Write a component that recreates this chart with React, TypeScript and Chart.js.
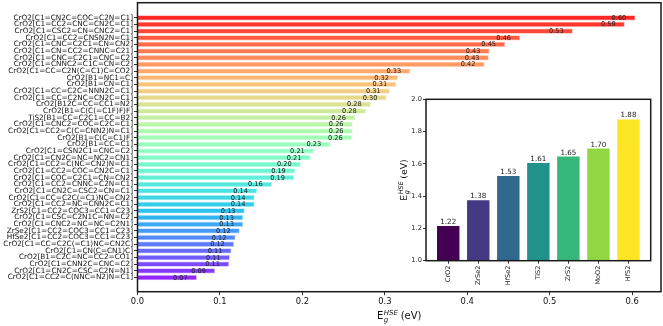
import React, { useEffect, useRef } from "react";
import { Chart, registerables } from "chart.js";

Chart.register(...registerables);

// ---------- data ----------
const molecules: string[] = [
  "CrO2[C1=CN2C=COC=C2N=C1]",
  "CrO2[C1=CC2=CNC=CN2C=C1]",
  "CrO2[C1=CSC2=CN=CNC2=C1]",
  "CrO2[C1=CC2=CNSN2N=C1]",
  "CrO2[C1=CNC=C2C1=CN=CN2]",
  "CrO2[C1=CN=CC2=CNNC=C21]",
  "CrO2[C1=CNC=C2C1=CNC=C2]",
  "CrO2[C1=CNNC2=C1C=CN=C2]",
  "CrO2[C1=CC=C2N(C=C1)C=CO2]",
  "CrO2[B1=NC1=C]",
  "CrO2[B1=CN=C1]",
  "CrO2[C1=CC=C2C=NNN2C=C1]",
  "CrO2[C1=CC=C2NC=CN2C=C1]",
  "CrO2[B12C=CC=CC1=N2]",
  "CrO2[B1=C(C(=C1F)F)F]",
  "TiS2[B1=CC=C2C1=CC=B2]",
  "CrO2[C1=CNC2=COC=C2C=C1]",
  "CrO2[C1=CC2=C(C=CNN2)N=C1]",
  "CrO2[B1=C(C=C1)F]",
  "CrO2[B1=CC=C1]",
  "CrO2[C1=CSN2C1=CNC=C2]",
  "CrO2[C1=CN2C=NC=NC2=CN1]",
  "CrO2[C1=CC2=C(NC=CN2)N=C1]",
  "CrO2[C1=CC2=COC=CN2C=C1]",
  "CrO2[C1=COC=C2C1=CN=CN2]",
  "CrO2[C1=CC2=CNNC=C2N=C1]",
  "CrO2[C1=CN2C=CSC2=CN=C1]",
  "CrO2[C1=CC=C2C(=C1)NC=CN2]",
  "CrO2[C1=CC2=NC=CNN2C=C1]",
  "ZrS2[C1=CC2=COC3=CC1=C23]",
  "CrO2[C1=CSC=C2N1C=NN=C2]",
  "CrO2[C1=CNC2=NC=NC=C2N1]",
  "ZrSe2[C1=CC2=COC3=CC1=C23]",
  "HfSe2[C1=CC2=COC3=CC1=C23]",
  "CrO2[C1=CC=C2C(=C1)NC=CN2C]",
  "CrO2[C1=CN(C=CN1)C]",
  "CrO2[B1=C2C=NC=CC2=CO1]",
  "CrO2[C1=CNN2C=CNC=C2]",
  "CrO2[C1=CN2C=CSC=C2N=N1]",
  "CrO2[C1=CC2=C(NNC=N2)N=C1]",
];

const bandGaps: number[] = [
  0.604, 0.591, 0.528, 0.464, 0.446, 0.427, 0.426, 0.421, 0.331, 0.316,
  0.314, 0.306, 0.302, 0.283, 0.277, 0.264, 0.261, 0.261, 0.26, 0.234,
  0.214, 0.21, 0.198, 0.191, 0.19, 0.163, 0.145, 0.142, 0.142, 0.13,
  0.128, 0.128, 0.124, 0.119, 0.117, 0.114, 0.112, 0.111, 0.094, 0.072,
];

const hostNames: string[] = ["CrO2", "ZrSe2", "HfSe2", "TiS2", "ZrS2", "MoO2", "HfS2"];
const hostGaps: number[] = [1.22, 1.38, 1.53, 1.61, 1.65, 1.7, 1.88];
const hostColors: string[] = ["#440154", "#443983", "#31688e", "#21918c", "#35b779", "#90d743", "#fde725"];

const mainXTicks: number[] = [0.0, 0.1, 0.2, 0.3, 0.4, 0.5, 0.6];
const insetYTicks: number[] = [1.0, 1.2, 1.4, 1.6, 1.8, 2.0];

// ---------- helpers ----------
const FONT = '"DejaVu Sans", sans-serif';

function rainbow(x: number, a: number): string {
  const r = Math.min(1, Math.abs(2 * x - 0.5));
  const g = Math.sin(Math.PI * x);
  const b = Math.cos((Math.PI * x) / 2);
  return `rgba(${Math.round(r * 255)},${Math.round(g * 255)},${Math.round(b * 255)},${a})`;
}

function drawEgLabel(ctx: CanvasRenderingContext2D, x: number, y: number, size: number, rotate: boolean) {
  ctx.save();
  ctx.translate(x, y);
  if (rotate) ctx.rotate(-Math.PI / 2);
  ctx.fillStyle = "#111";
  ctx.textBaseline = "alphabetic";
  ctx.textAlign = "left";
  const big = `${size}px ${FONT}`;
  const small = `italic ${size * 0.7}px ${FONT}`;
  ctx.font = big;
  const wE = ctx.measureText("E").width;
  const wRest = ctx.measureText(" (eV)").width;
  ctx.font = small;
  const wSup = ctx.measureText("HSE").width;
  const wSub = ctx.measureText("g").width;
  const wMid = Math.max(wSup, wSub);
  const total = wE + wMid + wRest;
  let cx = -total / 2;
  ctx.font = big;
  ctx.fillText("E", cx, 0);
  ctx.font = small;
  ctx.fillText("HSE", cx + wE + 0.5, -size * 0.42);
  ctx.fillText("g", cx + wE + 0.5, size * 0.22);
  ctx.font = big;
  ctx.fillText(" (eV)", cx + wE + wMid, 0);
  ctx.restore();
}

// ---------- main chart ----------
function MainChart() {
  const ref = useRef<HTMLCanvasElement | null>(null);
  useEffect(() => {
    if (!ref.current) return;
    const n = molecules.length;
    const fills = molecules.map((_, i) => rainbow(1 - i / (n - 1), 0.85));
    const edges = molecules.map((_, i) => rainbow(1 - i / (n - 1), 0.35));
    const framePlugin = {
      id: "mainFrame",
      afterDatasetsDraw(chart: any) {
        const ctx = chart.ctx as CanvasRenderingContext2D;
        const xs = chart.scales.x;
        const ys = chart.scales.y;
        ctx.save();
        ctx.font = `6.6px ${FONT}`;
        ctx.fillStyle = "#222";
        ctx.textAlign = "center";
        ctx.textBaseline = "middle";
        bandGaps.forEach((v, i) => {
          ctx.fillText(v.toFixed(2), xs.getPixelForValue(v - 0.02), ys.getPixelForValue(i) + 0.3);
        });
        ctx.restore();
      },
      afterDraw(chart: any) {
        const ctx = chart.ctx as CanvasRenderingContext2D;
        const a = chart.chartArea;
        ctx.save();
        ctx.strokeStyle = "#1a1a1a";
        ctx.lineWidth = 1.5;
        ctx.strokeRect(a.left, a.top, a.right - a.left, a.bottom - a.top);
        ctx.restore();
        drawEgLabel(ctx, (a.left + a.right) / 2, 319.3, 10, false);
      },
    };
    const chart = new Chart(ref.current, {
      type: "bar",
      data: {
        datasets: [
          {
            data: bandGaps.map((v, i) => ({ x: v, y: i })),
            backgroundColor: fills,
            borderColor: edges,
            borderWidth: 0.8,
            barPercentage: 0.8,
            categoryPercentage: 1,
          } as any,
        ],
      },
      options: {
        indexAxis: "y",
        responsive: false,
        animation: false,
        devicePixelRatio: 1,
        layout: { padding: { left: 0, top: 2.7, right: 2, bottom: 0 } },
        plugins: { legend: { display: false }, tooltip: { enabled: false }, title: { display: false } },
        scales: {
          y: {
            type: "linear",
            reverse: true,
            min: -2.27,
            max: 41.13,
            offset: false,
            afterBuildTicks: (s: any) => {
              s.ticks = molecules.map((_, i) => ({ value: i }));
            },
            afterFit: (s: any) => {
              s.width = 137.5;
              s.paddingTop = 0;
              s.paddingBottom = 0;
            },
            ticks: {
              autoSkip: false,
              padding: 1,
              color: "#111",
              font: { family: FONT, size: 7.3 },
              callback: (v: any) => molecules[v as number] ?? "",
            },
            grid: { display: true, drawOnChartArea: false, drawTicks: true, tickLength: 3.5, tickWidth: 0.8, tickColor: "#000", offset: false },
            border: { display: false },
          },
          x: {
            type: "linear",
            min: 0,
            max: 0.635,
            offset: false,
            afterBuildTicks: (s: any) => {
              s.ticks = mainXTicks.map((v) => ({ value: v }));
            },
            afterFit: (s: any) => {
              s.height = 34.3;
            },
            ticks: {
              padding: 1.5,
              color: "#111",
              font: { family: FONT, size: 8.4 },
              maxRotation: 0,
              callback: (v: any) => Number(v).toFixed(1),
            },
            grid: { display: true, drawOnChartArea: false, drawTicks: true, tickLength: 3.5, tickWidth: 0.8, tickColor: "#000", offset: false },
            border: { display: false },
          },
        },
      },
      plugins: [framePlugin],
    } as any);
    return () => chart.destroy();
  }, []);
  return <canvas ref={ref} width={663} height={326} style={{ position: "absolute", left: 0, top: 0 }} />;
}

// ---------- inset chart ----------
function InsetChart() {
  const ref = useRef<HTMLCanvasElement | null>(null);
  useEffect(() => {
    if (!ref.current) return;
    const insetPlugin = {
      id: "insetFrame",
      beforeDraw(chart: any) {
        const ctx = chart.ctx as CanvasRenderingContext2D;
        const a = chart.chartArea;
        ctx.save();
        ctx.fillStyle = "#ffffff";
        ctx.fillRect(a.left, a.top, a.right - a.left, a.bottom - a.top);
        ctx.restore();
      },
      afterDatasetsDraw(chart: any) {
        const ctx = chart.ctx as CanvasRenderingContext2D;
        const xs = chart.scales.x;
        const ys = chart.scales.y;
        ctx.save();
        ctx.font = `7.2px ${FONT}`;
        ctx.fillStyle = "#222";
        ctx.textAlign = "center";
        ctx.textBaseline = "alphabetic";
        hostGaps.forEach((v, i) => {
          ctx.fillText(v.toFixed(2), xs.getPixelForValue(i), ys.getPixelForValue(v) - 1.2);
        });
        ctx.restore();
      },
      afterDraw(chart: any) {
        const ctx = chart.ctx as CanvasRenderingContext2D;
        const a = chart.chartArea;
        ctx.save();
        ctx.strokeStyle = "#1a1a1a";
        ctx.lineWidth = 1.5;
        ctx.strokeRect(a.left, a.top, a.right - a.left, a.bottom - a.top);
        ctx.restore();
        drawEgLabel(ctx, 27, (a.top + a.bottom) / 2, 9.3, true);
      },
    };
    const chart = new Chart(ref.current, {
      type: "bar",
      data: {
        datasets: [
          {
            data: hostGaps.map((v, i) => ({ x: i, y: v })),
            backgroundColor: hostColors,
            borderColor: "rgba(255,255,255,0.45)",
            borderWidth: 0.8,
            barPercentage: 0.8,
            categoryPercentage: 1,
            base: 1.0,
          } as any,
        ],
      },
      options: {
        responsive: false,
        animation: false,
        devicePixelRatio: 1,
        layout: { padding: { left: 0, top: 9.3, right: 12.3, bottom: 0 } },
        plugins: { legend: { display: false }, tooltip: { enabled: false }, title: { display: false } },
        scales: {
          x: {
            type: "linear",
            min: -0.74,
            max: 6.74,
            offset: false,
            afterBuildTicks: (s: any) => {
              s.ticks = hostNames.map((_, i) => ({ value: i }));
            },
            afterFit: (s: any) => {
              s.height = 65.3;
              s.paddingLeft = 0;
              s.paddingRight = 0;
            },
            ticks: {
              autoSkip: false,
              padding: 2,
              minRotation: 90,
              maxRotation: 90,
              color: "#222",
              font: { family: FONT, size: 6.5 },
              callback: (v: any) => hostNames[v as number] ?? "",
            },
            grid: { display: true, drawOnChartArea: false, drawTicks: true, tickLength: 3, tickWidth: 0.8, tickColor: "#000", offset: false },
            border: { display: false },
          },
          y: {
            type: "linear",
            min: 1.0,
            max: 2.0,
            afterBuildTicks: (s: any) => {
              s.ticks = insetYTicks.map((v) => ({ value: v }));
            },
            afterFit: (s: any) => {
              s.width = 46;
              s.paddingTop = 0;
              s.paddingBottom = 0;
            },
            ticks: {
              padding: 1,
              color: "#222",
              font: { family: FONT, size: 6.7 },
              callback: (v: any) => Number(v).toFixed(1),
            },
            grid: { display: true, drawOnChartArea: false, drawTicks: true, tickLength: 3, tickWidth: 0.8, tickColor: "#000" },
            border: { display: false },
          },
        },
      },
      plugins: [insetPlugin],
    } as any);
    return () => chart.destroy();
  }, []);
  return <canvas ref={ref} width={283} height={236} style={{ position: "absolute", left: 380, top: 90 }} />;
}

export default function App() {
  return (
    <div style={{ position: "fixed", left: 0, top: 0, width: 663, height: 326, background: "#fff", overflow: "hidden" }}>
      <MainChart />
      <InsetChart />
    </div>
  );
}
